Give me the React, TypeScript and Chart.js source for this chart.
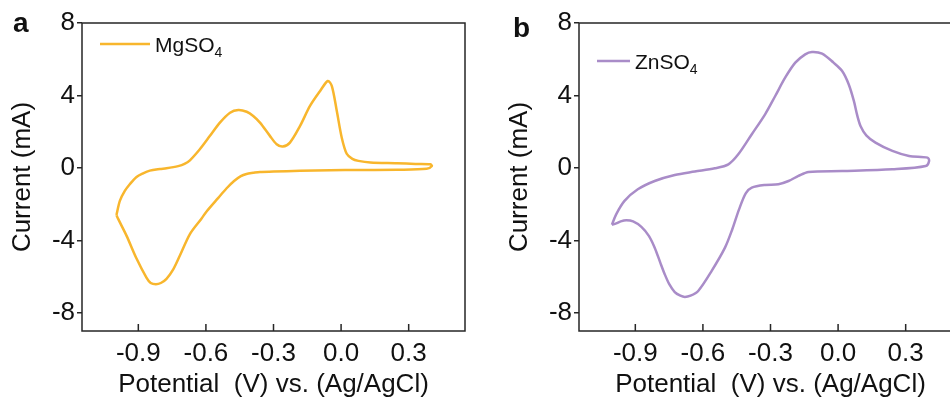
import React, { useEffect, useRef } from "react";
import { Chart, registerables } from "chart.js";

Chart.register(...registerables);

// ---- data ----
const xTicks = [-0.9, -0.6, -0.3, 0.0, 0.3];
const yTicks = [-8, -4, 0, 4, 8];
const xRange = [-1.15, 0.55];
const yRange = [-9, 8];
const xTitle = "Potential  (V) vs. (Ag/AgCl)";
const yTitle = "Current (mA)";
const seriesLabels = ["MgSO₄", "ZnSO₄"];
const panelLetters = ["a", "b"];
const seriesColors = ["#F8B62D", "#A98CC8"];

// MgSO4 cyclic voltammogram (closed loop: anodic branch then cathodic branch)
const mgPotential = [
  -0.997, -0.982, -0.96, -0.938, -0.908, -0.879, -0.849, -0.804, -0.775, -0.723,
  -0.695, -0.671, -0.627, -0.582, -0.538, -0.493, -0.456, -0.419, -0.39, -0.36,
  -0.316, -0.286, -0.259, -0.227, -0.182, -0.138, -0.093, -0.059, -0.041, -0.019,
  0.003, 0.025, 0.05, 0.077, 0.13, 0.248, 0.33, 0.396, 0.403,
  0.38, 0.248, 0.084, -0.049, -0.182, -0.3, -0.36, -0.39, -0.42, -0.445,
  -0.475, -0.508, -0.545, -0.597, -0.62, -0.671, -0.716, -0.745, -0.775, -0.8,
  -0.822, -0.845, -0.864, -0.908, -0.952, -0.99, -0.997,
];
const mgCurrent = [
  -2.6, -1.82, -1.27, -0.9, -0.5, -0.3, -0.15, -0.06, -0.02, 0.1,
  0.22, 0.42, 1.03, 1.77, 2.5, 3.05, 3.2, 3.1, 2.87, 2.5,
  1.77, 1.31, 1.18, 1.4, 2.32, 3.42, 4.25, 4.8, 4.52, 3.14,
  1.67, 0.78, 0.5, 0.39, 0.3, 0.26, 0.22, 0.2, 0.11,
  -0.05, -0.1, -0.11, -0.13, -0.16, -0.2, -0.22, -0.27, -0.33, -0.45,
  -0.72, -1.12, -1.65, -2.4, -2.8, -3.65, -4.85, -5.6, -6.12, -6.35,
  -6.42, -6.35, -6.05, -5.0, -3.75, -2.8, -2.6,
];

// ZnSO4 cyclic voltammogram
const znPotential = [
  -1.004, -0.985, -0.948, -0.889, -0.814, -0.725, -0.636, -0.547, -0.487, -0.443,
  -0.383, -0.324, -0.279, -0.235, -0.19, -0.146, -0.116, -0.071, -0.02, 0.018,
  0.047, 0.07, 0.085, 0.1, 0.125, 0.166, 0.241, 0.315, 0.397, 0.404,
  0.389, 0.241, 0.018, -0.131, -0.176, -0.22, -0.265, -0.324, -0.383, -0.41,
  -0.44, -0.47, -0.502, -0.561, -0.621, -0.655, -0.68, -0.70, -0.725, -0.75,
  -0.77, -0.79, -0.814, -0.84, -0.873, -0.91, -0.94, -0.965, -0.985, -1.004,
];
const znCurrent = [
  -3.14, -2.56, -1.82, -1.18, -0.72, -0.39, -0.2, -0.02, 0.2, 0.75,
  1.86, 2.96, 3.97, 4.98, 5.81, 6.27, 6.4, 6.31, 5.81, 5.35,
  4.62, 3.7, 2.9, 2.3, 1.8, 1.4, 0.94, 0.66, 0.57, 0.39,
  0.11, -0.07, -0.17, -0.22, -0.44, -0.72, -0.9, -0.94, -1.09, -1.4,
  -2.3, -3.4, -4.4, -5.68, -6.79, -7.05, -7.12, -7.05, -6.85, -6.4,
  -5.85, -5.2, -4.4, -3.75, -3.25, -2.95, -2.89, -2.95, -3.06, -3.14,
];

const FONT = "'Liberation Sans', Arial, Helvetica, sans-serif";
const INK = "#262626";

function drawRich(ctx: CanvasRenderingContext2D, text: string, x: number, y: number, size: number) {
  const parts = text.split(/([₀-₉]+)/);
  let cx = x;
  for (const p of parts) {
    if (!p) continue;
    const isSub = /^[₀-₉]+$/.test(p);
    if (isSub) {
      const s = p.replace(/[₀-₉]/g, (c) => String(c.charCodeAt(0) - 0x2080));
      ctx.font = `${Math.round(size * 0.68)}px ${FONT}`;
      ctx.fillText(s, cx, y + size * 0.24);
      cx += ctx.measureText(s).width;
    } else {
      ctx.font = `${size}px ${FONT}`;
      ctx.fillText(p, cx, y);
      cx += ctx.measureText(p).width;
    }
  }
}

const cvPlugin = {
  id: "cvDecor",
  afterDraw(chart: any, _args: any, opts: any) {
    const { ctx, chartArea } = chart;
    const { left, top, right, bottom } = chartArea;
    ctx.save();
    // frame
    ctx.strokeStyle = INK;
    ctx.lineWidth = 1.5;
    ctx.strokeRect(left, top, right - left, bottom - top);
    // inward x ticks
    const xs = chart.scales.x;
    ctx.beginPath();
    for (const t of xs.ticks) {
      const px = xs.getPixelForValue(t.value);
      ctx.moveTo(px, bottom);
      ctx.lineTo(px, bottom - 7);
    }
    ctx.stroke();
    // legend
    const ds = chart.data.datasets[0];
    const ly = top + opts.legendY;
    ctx.strokeStyle = ds.borderColor;
    ctx.lineWidth = ds.borderWidth;
    ctx.beginPath();
    ctx.moveTo(left + opts.legendX, ly);
    ctx.lineTo(left + opts.legendX + opts.legendLen, ly);
    ctx.stroke();
    ctx.fillStyle = "#111";
    ctx.textBaseline = "alphabetic";
    ctx.textAlign = "left";
    drawRich(ctx, ds.label, left + opts.legendX + opts.legendLen + 5, ly + 7.8, 21);
    // panel letter
    ctx.font = `bold 28px ${FONT}`;
    ctx.fillStyle = "#111";
    ctx.fillText(opts.letter, opts.letterX, opts.letterY);
    ctx.restore();
  },
};

function makeConfig(potential: number[], current: number[], idx: number, decor: any): any {
  const points = potential.map((v, i) => ({ x: v, y: current[i] }));
  return {
    type: "scatter",
    data: {
      datasets: [
        {
          label: seriesLabels[idx],
          data: points,
          showLine: true,
          borderColor: seriesColors[idx],
          backgroundColor: seriesColors[idx],
          borderWidth: 2.5,
          pointRadius: 0,
          tension: 0.3,
          fill: false,
        },
      ],
    },
    options: {
      responsive: false,
      animation: false,
      devicePixelRatio: 1,
      layout: { padding: { left: 0, top: 23, right: 10, bottom: 0 } },
      plugins: {
        legend: { display: false },
        tooltip: { enabled: false },
        cvDecor: decor,
      },
      scales: {
        x: {
          type: "linear",
          min: xRange[0],
          max: xRange[1],
          afterBuildTicks: (s: any) => {
            s.ticks = xTicks.map((v) => ({ value: v }));
          },
          afterFit: (s: any) => {
            s.height = 69;
          },
          grid: { display: false, drawTicks: false },
          border: { display: false },
          ticks: {
            padding: 7,
            color: "#111",
            font: { family: FONT, size: 26 },
            maxRotation: 0,
            autoSkip: false,
            callback: (v: any) => Number(v).toFixed(1),
          },
          title: {
            display: true,
            text: xTitle,
            color: "#111",
            font: { family: FONT, size: 26 },
            padding: { top: 0, bottom: 0 },
          },
        },
        y: {
          type: "linear",
          min: yRange[0],
          max: yRange[1],
          afterBuildTicks: (s: any) => {
            s.ticks = yTicks.map((v) => ({ value: v }));
          },
          afterFit: (s: any) => {
            s.width = 82;
          },
          grid: {
            display: true,
            drawOnChartArea: false,
            drawTicks: true,
            tickLength: 5,
            color: INK,
            lineWidth: 1.5,
          },
          border: { display: false },
          ticks: {
            padding: 2,
            color: "#111",
            font: { family: FONT, size: 26 },
            autoSkip: false,
            callback: (v: any) => String(v),
          },
          title: {
            display: true,
            text: yTitle,
            color: "#111",
            font: { family: FONT, size: 26 },
            padding: { top: 7, bottom: 0 },
          },
        },
      },
    },
    plugins: [cvPlugin],
  };
}

function CVPanel(props: { potential: number[]; current: number[]; idx: number; left: number; decor: any }) {
  const ref = useRef<HTMLCanvasElement | null>(null);
  useEffect(() => {
    if (!ref.current) return;
    const chart = new Chart(ref.current, makeConfig(props.potential, props.current, props.idx, props.decor));
    return () => chart.destroy();
  }, []);
  return (
    <div style={{ position: "absolute", left: props.left, top: 0, width: 475, height: 400 }}>
      <canvas ref={ref} width={475} height={400} style={{ width: 475, height: 400, display: "block" }} />
    </div>
  );
}

export default function App() {
  useEffect(() => {
    document.body.style.margin = "0";
  }, []);
  return (
    <div
      style={{
        position: "fixed",
        left: 0,
        top: 0,
        width: 950,
        height: 400,
        overflow: "hidden",
        background: "#fff",
      }}
    >
      <CVPanel
        potential={mgPotential}
        current={mgCurrent}
        idx={0}
        left={0}
        decor={{ legendX: 18, legendY: 21, legendLen: 50, letter: panelLetters[0], letterX: 13, letterY: 32 }}
      />
      <CVPanel
        potential={znPotential}
        current={znCurrent}
        idx={1}
        left={497}
        decor={{ legendX: 18, legendY: 38, legendLen: 33, letter: panelLetters[1], letterX: 16, letterY: 37 }}
      />
    </div>
  );
}
